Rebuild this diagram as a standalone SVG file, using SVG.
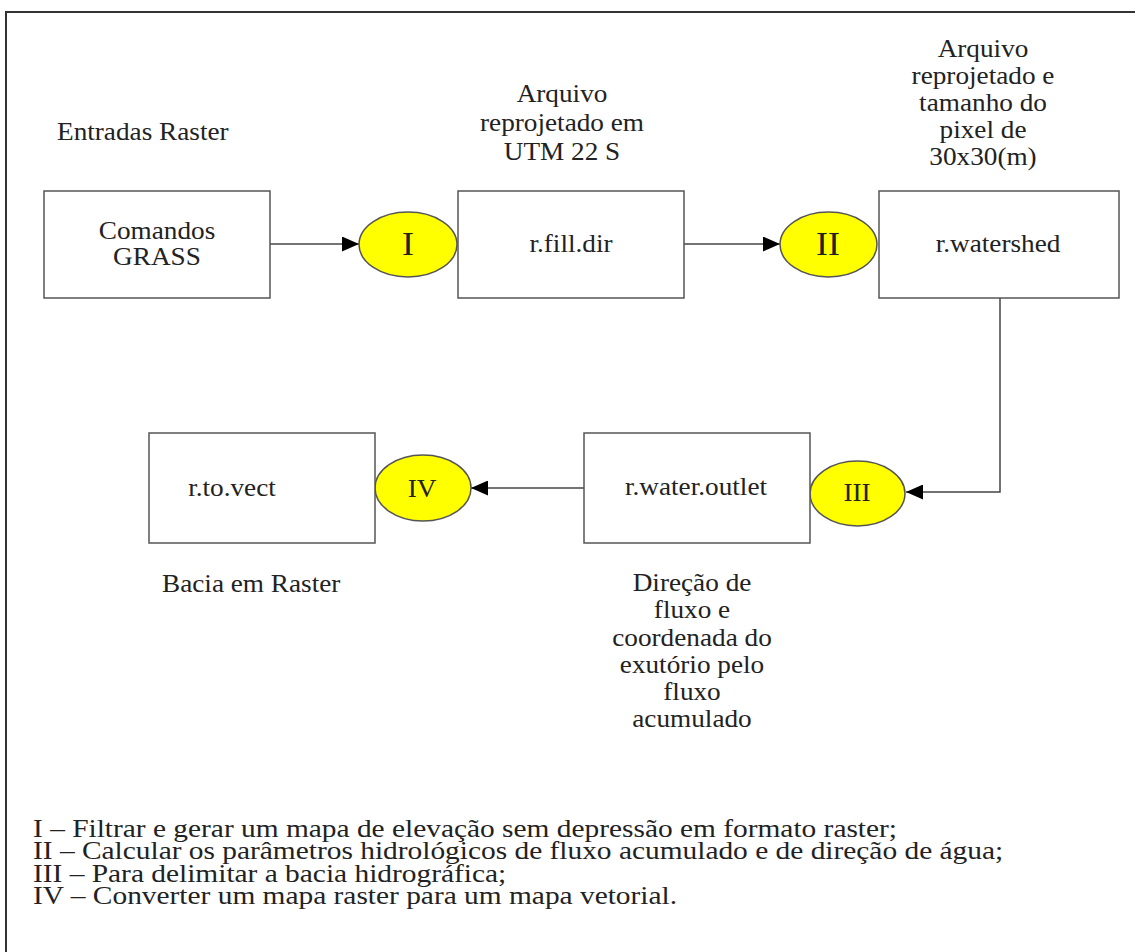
<svg xmlns="http://www.w3.org/2000/svg" width="1135" height="952" viewBox="0 0 1135 952">
<defs>
<style>
text{font-family:"Liberation Serif","Times New Roman",serif;fill:#222;}
.lbl{font-size:25px;}
.big{font-size:33px;}
.mid{font-size:25px;}
.leg{font-size:24.5px;}
.box{fill:#fff;stroke:#555;stroke-width:1.5;}
.ell{fill:#ffff00;stroke:#555;stroke-width:1.5;}
.con{fill:none;stroke:#444;stroke-width:1.5;}
</style>
<marker id="arr" markerUnits="userSpaceOnUse" markerWidth="17" markerHeight="15" refX="17" refY="7.5" orient="auto">
<path d="M0,0 L17,7.5 L0,15 z" fill="#000"/>
</marker>
</defs>
<rect x="0" y="0" width="1135" height="952" fill="#fff"/>
<path d="M6,960 L6,12 L1140,12" fill="none" stroke="#333" stroke-width="2"/>

<g id="connectors">
<line class="con" x1="270" y1="244" x2="359" y2="244" marker-end="url(#arr)"/>
<line class="con" x1="684" y1="244" x2="780" y2="244" marker-end="url(#arr)"/>
<polyline class="con" points="1000,298 1000,492 906,492" marker-end="url(#arr)"/>
<line class="con" x1="584" y1="488" x2="471" y2="488" marker-end="url(#arr)"/>
</g>

<g id="label-entradas">
<text class="lbl" transform="translate(57 140) scale(1.09 1)">Entradas Raster</text>
</g>

<g id="node-comandos">
<rect class="box" x="44" y="191" width="226" height="107"/>
<text class="lbl" text-anchor="middle" transform="translate(157 239) scale(1.09 1)"><tspan x="0" y="0">Comandos</tspan><tspan x="0" y="26">GRASS</tspan></text>
</g>

<g id="node-I">
<ellipse class="ell" cx="408" cy="244.5" rx="49" ry="32.5"/>
<text class="big" text-anchor="middle" transform="translate(408 255) scale(1.09 1)">I</text>
</g>

<g id="label-utm">
<text class="lbl" text-anchor="middle" transform="translate(562 102) scale(1.09 1)"><tspan x="0" y="0">Arquivo</tspan><tspan x="0" y="29">reprojetado em</tspan><tspan x="0" y="58">UTM 22 S</tspan></text>
</g>

<g id="node-fill">
<rect class="box" x="458" y="191" width="226" height="107"/>
<text class="lbl" text-anchor="middle" transform="translate(571 252) scale(1.09 1)">r.fill.dir</text>
</g>

<g id="node-II">
<ellipse class="ell" cx="828.5" cy="244.5" rx="48.5" ry="32.5"/>
<text class="big" text-anchor="middle" transform="translate(828 255) scale(1.09 1)">II</text>
</g>

<g id="label-pixel">
<text class="lbl" text-anchor="middle" transform="translate(983 57) scale(1.09 1)"><tspan x="0" y="0">Arquivo</tspan><tspan x="0" y="27">reprojetado e</tspan><tspan x="0" y="54">tamanho do</tspan><tspan x="0" y="81">pixel de</tspan><tspan x="0" y="108">30x30(m)</tspan></text>
</g>

<g id="node-watershed">
<rect class="box" x="879" y="191" width="240" height="107"/>
<text class="lbl" text-anchor="middle" transform="translate(998 252) scale(1.09 1)">r.watershed</text>
</g>

<g id="node-III">
<ellipse class="ell" cx="857.5" cy="493.5" rx="47.5" ry="32.5"/>
<text class="mid" text-anchor="middle" transform="translate(857 501) scale(1.09 1)">III</text>
</g>

<g id="node-outlet">
<rect class="box" x="584" y="433" width="226" height="110"/>
<text class="lbl" text-anchor="middle" transform="translate(696 495) scale(1.09 1)">r.water.outlet</text>
</g>

<g id="label-direcao">
<text class="lbl" text-anchor="middle" transform="translate(692 591) scale(1.09 1)"><tspan x="0" y="0">Direção de</tspan><tspan x="0" y="27.3">fluxo e</tspan><tspan x="0" y="54.6">coordenada do</tspan><tspan x="0" y="81.9">exutório pelo</tspan><tspan x="0" y="109.2">fluxo</tspan><tspan x="0" y="136.5">acumulado</tspan></text>
</g>

<g id="node-IV">
<ellipse class="ell" cx="423" cy="488" rx="48" ry="33"/>
<text class="mid" text-anchor="middle" transform="translate(422 497) scale(1.09 1)">IV</text>
</g>

<g id="node-tovect">
<rect class="box" x="149" y="433" width="226" height="110"/>
<text class="lbl" text-anchor="middle" transform="translate(232 496) scale(1.09 1)">r.to.vect</text>
</g>

<g id="label-bacia">
<text class="lbl" transform="translate(162 592) scale(1.09 1)">Bacia em Raster</text>
</g>

<g id="legend">
<text class="leg" transform="translate(33 837) scale(1.2 1)"><tspan x="0" y="0">I – Filtrar e gerar um mapa de elevação sem depressão em formato raster;</tspan><tspan x="0" y="22.3">II – Calcular os parâmetros hidrológicos de fluxo acumulado e de direção de água;</tspan><tspan x="0" y="44.6">III – Para delimitar a bacia hidrográfica;</tspan><tspan x="0" y="66.9">IV – Converter um mapa raster para um mapa vetorial.</tspan></text>
</g>
</svg>
